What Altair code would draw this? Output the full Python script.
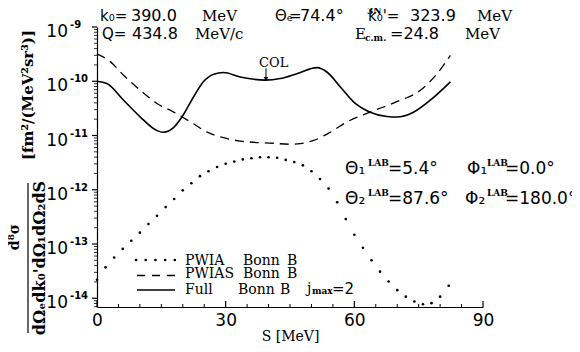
import altair as alt
import pandas as pd

# ---------------- data ----------------
S_PWIA = [0, 2, 4, 6, 8, 10, 12, 14, 16, 18, 20, 22, 24, 26, 28, 30, 32, 34, 36, 38, 40,
          42, 44, 46, 48, 50, 52, 54, 56, 58, 60, 62, 64, 66, 68, 70, 72, 74, 76, 78, 80, 82]
PWIA = [2.19e-14, 3.72e-14, 5.62e-14, 8.13e-14, 1.15e-13, 1.62e-13, 2.34e-13, 3.31e-13,
        4.79e-13, 6.76e-13, 9.77e-13, 1.32e-12, 1.78e-12, 2.19e-12, 2.63e-12, 3.02e-12,
        3.31e-12, 3.63e-12, 3.80e-12, 3.98e-12, 3.98e-12, 3.89e-12, 3.55e-12, 3.24e-12,
        2.82e-12, 2.19e-12, 1.58e-12, 1.05e-12, 5.89e-13, 2.88e-13, 1.48e-13, 8.51e-14,
        5.01e-14, 3.09e-14, 2.04e-14, 1.41e-14, 1.07e-14, 8.71e-15, 7.76e-15, 8.13e-15,
        1.07e-14, 1.70e-14]

S_PWIAS = [0, 3.1, 6.2, 10.1, 14.0, 17.9, 21.8, 25.7, 29.5, 33.4, 41.1, 45.0, 47.4, 50.5,
           54.4, 58.3, 63.7, 69.9, 75.4, 79.3, 82.4]
PWIAS = [3.2e-10, 2.3e-10, 1.29e-10, 6.8e-11, 3.9e-11, 2.7e-11, 1.78e-11, 1.15e-11, 9.1e-12,
         7.9e-12, 7.2e-12, 6.9e-12, 7.1e-12, 8.1e-12, 1.15e-11, 1.78e-11, 2.7e-11, 4.2e-11,
         6.8e-11, 1.38e-10, 3.0e-10]

S_FULL = [0, 2.3, 6.2, 10.1, 14.0, 15.5, 17.9, 19.8, 22.5, 24.8, 27.2, 29.5, 33.4, 39.2,
          42.7, 46.6, 51.3, 53.6, 56.7, 59.8, 63.7, 67.6, 69.9, 73.8, 77.7, 82.4]
FULL = [1.0e-10, 9.1e-11, 4.47e-11, 2.19e-11, 1.23e-11, 1.15e-11, 1.41e-11, 2.19e-11,
        5.13e-11, 9.77e-11, 1.35e-10, 1.45e-10, 1.20e-10, 1.05e-10, 1.12e-10, 1.38e-10,
        1.78e-10, 1.48e-10, 7.94e-11, 4.17e-11, 2.69e-11, 2.24e-11, 2.19e-11, 2.69e-11,
        4.47e-11, 9.77e-11]

X_LABELS = [0, 30, 60, 90]
X_MINOR = [5, 10, 15, 20, 25, 35, 40, 45, 50, 55, 65, 70, 75, 80, 85]
DECADES = [1e-14, 1e-13, 1e-12, 1e-11, 1e-10, 1e-9]
DECADE_EXP = ["-14", "-13", "-12", "-11", "-10", "-9"]
Y_MINOR = [m * 10.0 ** k for k in range(-15, -9) for m in range(2, 10)
           if 6.9e-15 <= m * 10.0 ** k <= 1e-9]

COL_S = [39.4]
COL_TOP = [1.74e-10]
COL_BOT = [1.02e-10]
COL_HEAD = [1.1e-10]
COL_TEXT_S = [41.2]
COL_TEXT_V = [2.45e-10]

# ---------------- layout ----------------
W, H = 386, 280
ONE = pd.DataFrame({"k": [0]})

xscale = alt.Scale(domain=[0, 90], nice=False, zero=False)
yscale = alt.Scale(type="log", domain=[6.9e-15, 1e-9], nice=False)
xaxis = alt.Axis(values=X_LABELS, ticks=False, grid=False, domainColor="black",
                 domainWidth=1.2, labelFont="DejaVu Sans", labelFontSize=17,
                 labelColor="black", labelPadding=5, labelFlush=False,
                 titleFont="DejaVu Serif", titleFontSize=14, titleFontWeight="normal",
                 titleColor="black", titlePadding=1)
yaxis = alt.Axis(ticks=False, labels=False, grid=False, domainColor="black", domainWidth=1.2)


def X():
    return alt.X("S:Q", scale=xscale, axis=xaxis, title="S [MeV]")


def Y():
    return alt.Y("v:Q", scale=yscale, axis=yaxis, title=None)


def txt(text, x, y, size=16, font="DejaVu Sans", weight="normal", align="left",
        baseline="middle", angle=0):
    return alt.Chart(ONE).mark_text(text=text, font=font, fontSize=size, fontWeight=weight,
                                    align=align, baseline=baseline, angle=angle,
                                    dy=round(size * 0.2),
                                    color="black").encode(x=alt.value(x), y=alt.value(y))


df_pwia = pd.DataFrame({"S": S_PWIA, "v": PWIA})
df_pwias = pd.DataFrame({"S": S_PWIAS, "v": PWIAS})
df_full = pd.DataFrame({"S": S_FULL, "v": FULL})

layers = []
layers.append(alt.Chart(df_pwia).mark_circle(size=7, color="black", opacity=1)
              .encode(x=X(), y=Y()))
layers.append(alt.Chart(df_pwias).mark_line(color="black", strokeWidth=1.3,
                                             strokeDash=[9, 6], interpolate="monotone")
              .encode(x=X(), y=Y()))
layers.append(alt.Chart(df_full).mark_line(color="black", strokeWidth=1.6,
                                            interpolate="monotone")
              .encode(x=X(), y=Y()))

# ticks
layers.append(alt.Chart(pd.DataFrame({"S": X_LABELS})).mark_rule(color="black", strokeWidth=1.2)
              .encode(x=X(), y=alt.value(H), y2=alt.value(H - 6)))
layers.append(alt.Chart(pd.DataFrame({"S": X_MINOR})).mark_rule(color="black", strokeWidth=1)
              .encode(x=X(), y=alt.value(H), y2=alt.value(H - 3)))
layers.append(alt.Chart(pd.DataFrame({"v": DECADES})).mark_rule(color="black", strokeWidth=1.2)
              .encode(y=Y(), x=alt.value(-5), x2=alt.value(0)))
layers.append(alt.Chart(pd.DataFrame({"v": Y_MINOR})).mark_rule(color="black", strokeWidth=0.8)
              .encode(y=Y(), x=alt.value(-3), x2=alt.value(0)))

# y tick labels 10^k
df_dec = pd.DataFrame({"v": DECADES, "base": ["10"] * len(DECADES), "exp": DECADE_EXP})
layers.append(alt.Chart(df_dec).mark_text(align="right", baseline="middle", font="DejaVu Sans",
                                          fontSize=17, dy=5, color="black")
              .encode(y=Y(), x=alt.value(-29), text="base:N"))
layers.append(alt.Chart(df_dec).mark_text(align="left", baseline="middle", font="DejaVu Sans",
                                          fontSize=10, fontWeight="bold", dy=-2, color="black")
              .encode(y=Y(), x=alt.value(-27), text="exp:N"))

# COL arrow
df_col = pd.DataFrame({"S": COL_S, "v": COL_TOP, "v2": COL_BOT})
layers.append(alt.Chart(df_col).mark_rule(color="black", strokeWidth=1)
              .encode(x=X(), y=Y(), y2="v2:Q"))
layers.append(alt.Chart(pd.DataFrame({"S": COL_S, "v": COL_HEAD}))
              .mark_point(shape="triangle-down", filled=True, size=22, color="black", opacity=1)
              .encode(x=X(), y=Y()))
layers.append(alt.Chart(pd.DataFrame({"S": COL_TEXT_S, "v": COL_TEXT_V, "t": ["COL"]}))
              .mark_text(font="DejaVu Serif", fontSize=13, color="black", align="center",
                         baseline="middle", dy=3)
              .encode(x=X(), y=Y(), text="t:N"))

# header
SANS, SERIF = "DejaVu Sans", "DejaVu Serif"
R1, R2 = -14, 4
layers += [
    txt("k₀=", 3, R1, 15), txt("390.0", 34, R1), txt("MeV", 105, R1, 15, SERIF),
    txt("Θₑ", 178, R1, 15), txt("=", 192, R1, 15), txt("74.4°", 203, R1),
    txt("k₀'=", 271, R1, 15), txt("323.9", 313, R1), txt("MeV", 380, R1, 15, SERIF),
    txt("Q=", 5, R2, 15), txt("434.8", 35, R2), txt("MeV/c", 98, R2, 15, SERIF),
    txt("E", 258, R2, 15, SERIF), txt("3N", 270, -18, 9, SERIF, "bold"),
    txt("c.m.", 268, 9, 9, SERIF, "bold"),
    txt("=24.8", 293, R2), txt("MeV", 368, R2, 15, SERIF),
]

# angles block
A1, A2 = 139, 169
layers += [
    txt("Θ₁", 248, A1, 17), txt("LAB", 271, A1 - 5, 9, SERIF, "bold"), txt("=5.4°", 291, A1, 17),
    txt("Φ₁", 370, A1, 17), txt("LAB", 390, A1 - 5, 9, SERIF, "bold"), txt("=0.0°", 408, A1, 17),
    txt("Θ₂", 248, A2, 17), txt("LAB", 271, A2 - 5, 9, SERIF, "bold"), txt("=87.6°", 291, A2, 17),
    txt("Φ₂", 368, A2, 17), txt("LAB", 390, A2 - 5, 9, SERIF, "bold"), txt("=180.0°", 408, A2, 17),
]

# legend
layers.append(alt.Chart(ONE).mark_rule(color="black", strokeWidth=2.6, strokeDash=[0.1, 9.6],
                                       strokeCap="round")
              .encode(x=alt.value(39), x2=alt.value(79), y=alt.value(233)))
layers.append(alt.Chart(ONE).mark_rule(color="black", strokeWidth=1.3, strokeDash=[8, 7])
              .encode(x=alt.value(40), x2=alt.value(79), y=alt.value(248.5)))
layers.append(alt.Chart(ONE).mark_rule(color="black", strokeWidth=1.6)
              .encode(x=alt.value(40), x2=alt.value(78), y=alt.value(263)))
L1, L2, L3 = 231, 244, 260
layers += [
    txt("PWIA", 88, L1, 14, SERIF), txt("Bonn", 146, L1, 14, SERIF), txt("B", 190, L1, 14, SERIF),
    txt("PWIAS", 88, L2, 14, SERIF), txt("Bonn", 146, L2, 14, SERIF), txt("B", 190, L2, 14, SERIF),
    txt("Full", 88, L3, 14, SERIF), txt("Bonn", 141, L3, 14, SERIF), txt("B", 183, L3, 14, SERIF),
    txt("j", 210, L3 - 1, 14, SERIF), txt("max", 215, L3 + 2, 9, SERIF, "bold"),
    txt("=2", 235, L3 - 1, 15),
]

# y-axis title (rotated)
layers += [
    txt("[fm²/(MeV²sr³)]", -72, 68, 15, SERIF, "bold", "center", "middle", 270),
    txt("d⁸σ", -85, 210, 14, SERIF, "bold", "center", "middle", 270),
    txt("dΩₑdk₀'dΩ₁dΩ₂dS", -60, 231, 16, SERIF, "bold", "center", "middle", 270),
]
layers.append(alt.Chart(ONE).mark_rule(color="black", strokeWidth=1.2)
              .encode(x=alt.value(-69), y=alt.value(156), y2=alt.value(306)))

chart = alt.layer(*layers).properties(
    width=W, height=H,
    autosize=alt.AutoSizeParams(type="none"),
    padding={"left": 89, "top": 19, "right": 89, "bottom": 37},
    background="white",
).configure_view(strokeWidth=0)

chart.save("out.html", embed_options={"renderer": "svg", "actions": False})
